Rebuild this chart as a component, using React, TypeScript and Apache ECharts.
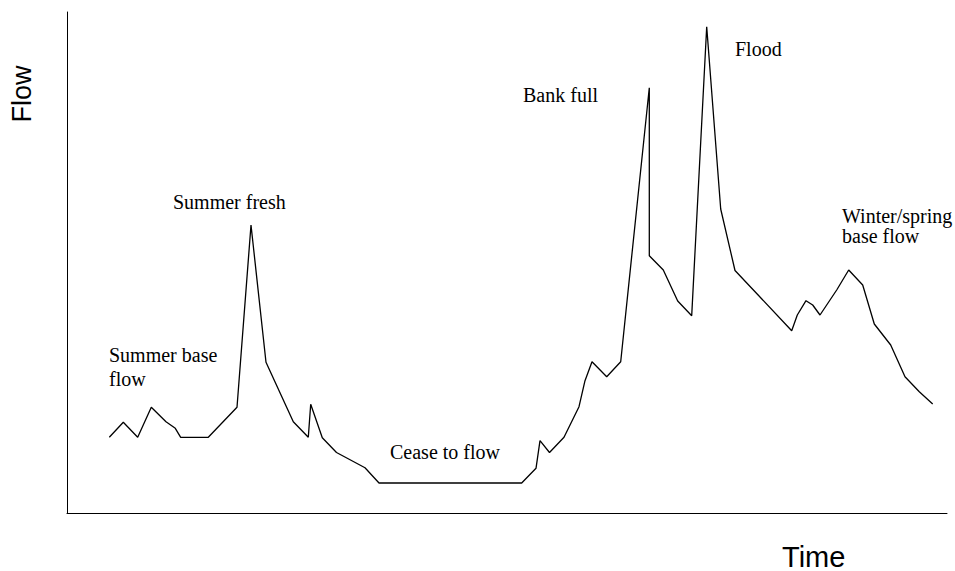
import React, { useEffect, useRef } from "react";
import * as echarts from "echarts";

const timeValues: number[] = [
  42.3, 56.3, 70.7, 84.3, 99, 108.3, 113.7, 141.3, 170, 184, 199, 226.3, 241.3, 243.7, 255.3,
  269.5, 298, 312, 454.7, 469, 473, 482.5, 497, 512, 518, 525, 539.7, 553.7, 582.3, 582.3,
  596.3, 610.7, 624.7, 639.7, 653.7, 668, 724.7, 730.3, 739, 745.7, 753, 769.7, 781.7, 795.7,
  807.3, 823.7, 838, 852.3, 865.7,
];
const flowValues: number[] = [
  75.7, 90.7, 75.7, 105.7, 91.3, 84.7, 75.7, 75.7, 105.7, 288, 150.7, 91.3, 75.7, 108.7, 75.2,
  60.5, 45.3, 30, 30, 44.7, 72.3, 60.5, 75.7, 106.3, 132.3, 151.3, 136.3, 151.3, 425.3, 257.3,
  243, 212, 197.3, 486.3, 304, 242.5, 182.3, 198, 212.3, 208, 198, 223, 243, 228,
  189, 168, 136.3, 121.3, 109,
];

const annotations: string[] = [
  "Summer fresh",
  "Summer base",
  "flow",
  "Cease to flow",
  "Bank full",
  "Flood",
  "Winter/spring",
  "base flow",
];
const xTitle = "Time";
const yTitle = "Flow";

const annPos: [number, number][] = [
  [173, 192],
  [109, 345],
  [109, 369],
  [390, 442],
  [523, 85],
  [735, 39],
  [842, 206],
  [842, 226],
];

export default function App() {
  const ref = useRef<HTMLDivElement>(null);
  useEffect(() => {
    if (!ref.current) return;
    const chart = echarts.init(ref.current, undefined, { renderer: "svg" });
    const data = timeValues.map((t, i) => [t, flowValues[i]]);
    const serif = '20px "Liberation Serif", "Times New Roman", serif';
    chart.setOption({
      animation: false,
      backgroundColor: "#ffffff",
      grid: { left: 67, right: 8, top: 12, bottom: 58 },
      xAxis: {
        type: "value",
        min: 0,
        max: 880,
        axisLine: { show: true, onZero: false, lineStyle: { color: "#000", width: 1 } },
        axisTick: { show: false },
        axisLabel: { show: false },
        splitLine: { show: false },
      },
      yAxis: {
        type: "value",
        min: 0,
        max: 501,
        axisLine: { show: true, onZero: false, lineStyle: { color: "#000", width: 1 } },
        axisTick: { show: false },
        axisLabel: { show: false },
        splitLine: { show: false },
      },
      series: [
        {
          type: "line",
          data,
          symbol: "none",
          lineStyle: { color: "#000", width: 1.3 },
          silent: true,
        },
      ],
      graphic: [
        ...annotations.map((t, i) => ({
          type: "text",
          x: annPos[i][0],
          y: annPos[i][1],
          style: { text: t, font: serif, fill: "#000", verticalAlign: "top" },
        })),
        {
          type: "text",
          x: 782,
          y: 542,
          style: { text: xTitle, font: '29px "Liberation Sans", Arial, sans-serif', fill: "#000", verticalAlign: "top" },
        },
        {
          type: "text",
          x: 22,
          y: 94,
          rotation: Math.PI / 2,
          style: {
            text: yTitle,
            font: '27px "Liberation Sans", Arial, sans-serif',
            fill: "#000",
            align: "center",
            verticalAlign: "middle",
          },
        },
      ],
    });
    return () => chart.dispose();
  }, []);
  return <div ref={ref} style={{ position: "fixed", left: 0, top: 0, width: 955, height: 571 }} />;
}
